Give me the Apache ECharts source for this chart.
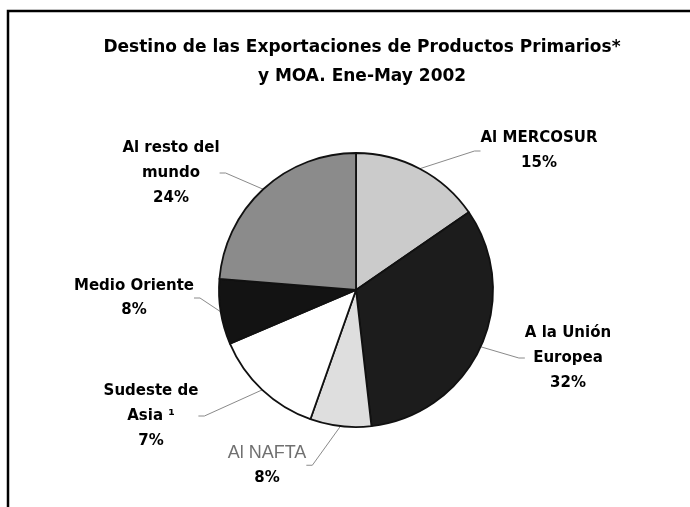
<!DOCTYPE html>
<html>
<head>
<meta charset="utf-8">
<script src="https://cdn.jsdelivr.net/npm/echarts@6/dist/echarts.min.js"></script>
<style>
html, body { margin: 0; padding: 0; background: #fff; }
#chart { width: 690px; height: 507px; }
</style>
</head>
<body>
<div id="chart"></div>
<script>
// destinos, en orden horario desde arriba
var categorias = ['Al MERCOSUR', 'A la Unión\nEuropea', 'Al NAFTA', 'Sudeste de\nAsia ¹', 'Medio Oriente', 'Al resto del\nmundo'];
// tamaño de cada porción tal como se ve dibujada (%)
var porciones = [15.4, 32.8, 7.2, 13.2, 7.7, 23.7];
// porcentaje impreso en cada etiqueta
var etiquetas = ['15%', '32%', '8%', '7%', '8%', '24%'];
var colores = ['#cbcbcb', '#1c1c1c', '#dedede', '#ffffff', '#131313', '#8b8b8b'];

// donde va cada etiqueta (centro del bloque de texto)
var posEtiquetas = [[539, 151], [568, 358], [267, 466], [151, 416], [134, 298], [171, 173]];

var chart = echarts.init(document.getElementById('chart'));

var datos = categorias.map(function (c, i) {
    return {
        name: c,
        value: porciones[i],
        itemStyle: { color: colores[i] }
    };
});

var negrita = 'DejaVu Sans';

var option = {
    animation: false,
    backgroundColor: '#fff',
    title: {
        text: 'Destino de las Exportaciones de Productos Primarios*\ny MOA. Ene-May 2002',
        left: 357,
        top: 28,
        textAlign: 'center',
        textStyle: {
            fontFamily: negrita,
            fontWeight: 'bold',
            fontSize: 17,
            lineHeight: 29,
            color: '#000'
        }
    },
    graphic: [{
        type: 'polyline',
        shape: { points: [[8, 507], [8, 11], [690, 11]] },
        style: { stroke: '#000', lineWidth: 2.5, fill: null }
    }],
    series: [{
        type: 'pie',
        center: [356, 290],
        radius: 137,
        startAngle: 90,
        clockwise: true,
        data: datos,
        itemStyle: { borderColor: '#111', borderWidth: 1.8 },
        label: {
            show: true,
            position: 'outside',
            formatter: function (p) {
                var i = p.dataIndex;
                if (i === 2) return '{g|' + p.name + '}\n{a|' + etiquetas[i] + '}';
                if (i === 4) return '{m|' + p.name + '}\n{m|' + etiquetas[i] + '}';
                return p.name.split('\n').map(function (t) { return '{a|' + t + '}'; }).join('\n') + '\n{a|' + etiquetas[i] + '}';
            },
            rich: {
                a: { fontFamily: negrita, fontWeight: 'bold', fontSize: 15, lineHeight: 25, color: '#000', align: 'center' },
                m: { fontFamily: negrita, fontWeight: 'bold', fontSize: 15, lineHeight: 24, color: '#000', align: 'center' },
                g: { fontFamily: 'Liberation Sans', fontSize: 18, lineHeight: 25, color: '#707070', align: 'center' }
            }
        },
        labelLine: {
            show: true,
            length: 10,
            length2: 6,
            lineStyle: { color: '#8a8a8a', width: 1 }
        },
        labelLayout: function (p) {
            var pos = posEtiquetas[p.dataIndex];
            return { x: pos[0], y: pos[1], align: 'center', verticalAlign: 'middle' };
        },
        emphasis: { disabled: true }
    }]
};

chart.setOption(option);
window.addEventListener('resize', function () { chart.resize(); });
</script>
</body>
</html>
